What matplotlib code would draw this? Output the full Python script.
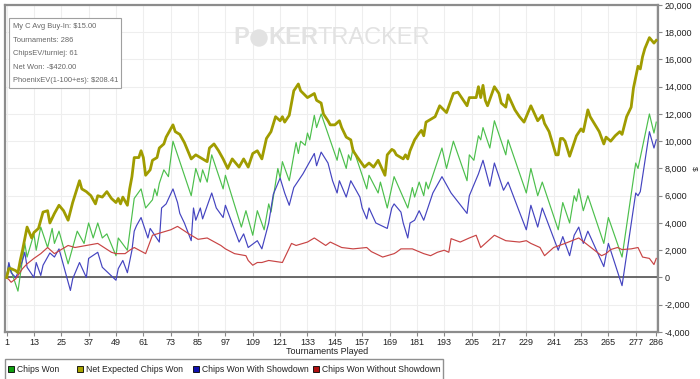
import matplotlib.pyplot as plt
from matplotlib.patches import Rectangle, Ellipse

# Chips Won (green)
won_t = [1, 2, 6, 9, 10, 13, 14, 16, 19, 21, 22, 24, 28, 32, 35, 37, 39, 41, 43, 45,
         49, 50, 54, 57, 60, 62, 65, 66, 67, 68, 70, 72, 74, 82, 84, 86, 87, 89, 91, 96,
         97, 104, 106, 109, 111, 114, 116, 117, 120, 121, 122, 125, 128, 129, 130, 132,
         133, 134, 136, 137, 139, 146, 147, 150, 151, 152, 153, 159, 160, 164, 165, 168,
         171, 177, 179, 180, 182, 184, 185, 186, 188, 189, 192, 194, 197, 203, 204, 206,
         208, 209, 210, 213, 215, 220, 221, 229, 231, 234, 236, 243, 245, 248, 250, 251,
         252, 254, 256, 263, 265, 271, 277, 278, 283, 285, 286]
won = [0, 1000, -1000, 2500, 1500, 3200, 2000, 3700, 2200, 3600, 2500, 3400, 1000, 3400,
       2500, 4000, 2900, 4000, 2900, 3200, 1600, 2900, 2000, 5800, 6500, 5100, 5700, 6500,
       6000, 6900, 7900, 7400, 10000, 6000, 8000, 7000, 7900, 7000, 9000, 6500, 7500, 3700,
       4900, 3100, 4900, 3500, 5400, 4800, 8000, 7300, 8500, 7100, 9900, 9100, 10000, 9700,
       10600, 10100, 11900, 11000, 12000, 8600, 9500, 8000, 9000, 8600, 9500, 6500, 7500,
       6200, 7000, 5100, 7400, 5100, 6600, 5900, 7000, 6000, 7000, 6500, 7500, 8000, 9500,
       8000, 10000, 7100, 9000, 8600, 10400, 10100, 11000, 9500, 11500, 9000, 10100, 6200,
       8000, 6000, 7000, 3500, 5500, 4000, 6000, 5600, 6500, 4900, 6000, 2500, 4400, 1500,
       8400, 8000, 12000, 10600, 11400]

# Net Expected Chips Won (olive)
ev_t = [1, 2, 3, 5, 6, 7, 8, 10, 12, 13, 15, 17, 19, 20, 22, 24, 26, 28, 30, 33, 34, 36,
        38, 40, 41, 43, 45, 47, 49, 50, 51, 52, 54, 55, 56, 57, 59, 60, 61, 62, 64, 65,
        67, 68, 70, 71, 72, 74, 75, 77, 79, 82, 84, 87, 89, 90, 92, 94, 96, 98, 100, 103,
        105, 107, 109, 111, 113, 115, 117, 119, 121, 122, 123, 125, 127, 129, 130, 133,
        136, 137, 139, 140, 142, 143, 145, 147, 148, 150, 152, 153, 155, 158, 160, 162,
        164, 167, 168, 170, 171, 172, 175, 176, 177, 178, 180, 182, 183, 184, 185, 189,
        191, 194, 197, 199, 203, 204, 207, 208, 209, 210, 211, 212, 215, 217, 218, 220,
        221, 224, 226, 228, 231, 234, 236, 237, 239, 242, 243, 244, 245, 246, 248, 251,
        253, 254, 256, 257, 261, 263, 264, 266, 268, 270, 271, 273, 275, 276, 278, 279,
        280, 281, 283, 285, 286]
ev = [0, 650, 650, 500, 350, 1250, 2000, 3700, 2900, 3300, 3600, 4800, 4900, 4000, 4700,
      5300, 4900, 4200, 5500, 7100, 6500, 6300, 6000, 5400, 6000, 5900, 6300, 5800, 5500,
      5800, 5400, 5900, 5300, 6500, 7400, 8800, 8800, 9300, 8800, 7500, 7900, 8600, 8800,
      9500, 9800, 10300, 10600, 11200, 10700, 10500, 9900, 8700, 9000, 8700, 8500, 9500,
      9800, 9300, 8700, 8000, 8700, 8100, 8700, 8100, 9100, 9300, 8700, 10200, 10700,
      11800, 11500, 11800, 11400, 11900, 13700, 14200, 13700, 13200, 13500, 13000, 12800,
      12000, 11500, 11200, 11200, 11500, 11000, 10300, 10100, 9300, 8800, 8100, 8400, 8100,
      8600, 7500, 9000, 9400, 9300, 9000, 8700, 9000, 8700, 9300, 10100, 10600, 10800,
      10400, 11400, 11800, 12600, 12100, 13500, 13600, 12600, 13200, 13200, 14000, 13200,
      14100, 13000, 12600, 14000, 13500, 12800, 12500, 13400, 12300, 11800, 11400, 12600,
      11500, 11900, 11300, 10700, 9000, 9000, 10200, 10200, 10000, 8900, 10400, 10900,
      10700, 12300, 11800, 10700, 9800, 10300, 10000, 10400, 10700, 10500, 11800, 12500,
      13900, 15500, 15300, 16200, 16800, 17600, 17200, 17400]

# Chips Won With Showdown (blue)
sd_t = [1, 2, 3, 5, 6, 8, 9, 10, 13, 14, 16, 17, 20, 22, 24, 29, 30, 33, 36, 37, 41, 43,
        49, 50, 52, 54, 56, 57, 58, 60, 63, 64, 68, 69, 71, 74, 76, 77, 79, 82, 83, 84,
        86, 87, 91, 93, 96, 97, 103, 105, 107, 111, 113, 116, 118, 121, 123, 125, 127,
        131, 136, 137, 139, 142, 144, 146, 147, 150, 152, 156, 157, 159, 160, 163, 168,
        170, 171, 174, 175, 177, 178, 180, 182, 184, 188, 192, 196, 203, 204, 208, 210,
        213, 215, 219, 221, 226, 229, 231, 234, 236, 243, 245, 248, 250, 252, 254, 256,
        263, 265, 271, 277, 278, 279, 283, 285, 286]
sd = [0, 1100, 350, 0, 350, 1250, 1850, 750, 0, 1100, 150, 900, 1800, 1500, 2100, -950,
      -100, 1100, 0, 1400, 1850, 750, -200, 650, 1250, 350, 2000, 3400, 3800, 4400, 2900,
      3600, 2600, 5100, 5400, 6500, 5500, 4700, 4000, 2700, 5100, 4200, 5100, 4300, 6200,
      5100, 4400, 5300, 2600, 3200, 2200, 2700, 2100, 4000, 6100, 7300, 6200, 5300, 6600,
      7600, 9100, 8200, 9200, 8400, 7100, 6200, 7100, 5900, 7100, 5900, 5100, 4300, 5100,
      4000, 3600, 5100, 5400, 4800, 4000, 2900, 4000, 4200, 4900, 4200, 6200, 7400, 6200,
      4700, 6000, 7600, 8600, 6700, 8400, 6400, 7000, 4800, 3500, 5300, 3700, 5100, 2000,
      3000, 1600, 3100, 3700, 2500, 3400, 800, 2500, -600, 6200, 6000, 6300, 10700, 9500,
      10100]

# Chips Won Without Showdown (red)
nsd_t = [1, 2, 3, 5, 8, 10, 13, 16, 19, 22, 28, 31, 41, 47, 49, 53, 55, 57, 62, 65, 73,
         76, 81, 85, 89, 95, 97, 101, 106, 107, 109, 111, 113, 116, 122, 126, 128, 133,
         136, 141, 143, 148, 153, 159, 161, 166, 171, 172, 174, 179, 184, 187, 190, 193,
         195, 196, 200, 204, 207, 209, 211, 215, 220, 226, 229, 231, 235, 237, 241, 246,
         252, 262, 264, 266, 269, 271, 275, 278, 280, 283, 285, 286]
nsd = [0, -150, -350, -100, 650, 1000, 1400, 1750, 2200, 1750, 2350, 2200, 2500, 1850,
       1750, 1750, 2000, 2200, 1750, 3100, 3500, 3750, 3200, 2800, 2900, 2350, 2100, 1750,
       1600, 1250, 900, 1100, 1100, 1250, 1100, 2500, 2350, 2600, 2900, 2350, 2600, 2200,
       2100, 2200, 1900, 1500, 1750, 1850, 2100, 2100, 1750, 1600, 1850, 2000, 1850, 2850,
       2600, 2900, 3100, 2200, 2500, 3100, 2700, 2600, 2700, 2500, 2200, 1600, 2200, 2500,
       2900, 1600, 1750, 2050, 2200, 2050, 2100, 2200, 1500, 1400, 950, 1400]

x_ticks = [1, 13, 25, 37, 49, 61, 73, 85, 97, 109, 121, 133, 145, 157, 169, 181, 193,
           205, 217, 229, 241, 253, 265, 277, 286]
y_ticks = list(range(-4000, 20001, 2000))

info_lines = ["My C Avg Buy-In: $15.00", "Tournaments: 286", "ChipsEV/turniej: 61",
              "Net Won: -$420.00", "PhoenixEV(1-100+es): $208.41"]
legend_names = ["Chips Won", "Net Expected Chips Won", "Chips Won With Showdown",
                "Chips Won Without Showdown"]
legend_colors = ["#10a010", "#a8a400", "#1010b0", "#b01010"]

plt.rcParams['font.family'] = ['Liberation Sans', 'DejaVu Sans']

fig = plt.figure(figsize=(7, 3.79), dpi=100)
ax = fig.add_axes([0.0071, 0.124, 0.933, 0.863])

ax.plot(won_t, won, color="#4cbf4c", lw=0.85, zorder=3)
ax.plot(sd_t, sd, color="#4444c0", lw=0.85, zorder=3)
ax.plot(nsd_t, nsd, color="#c84444", lw=0.85, zorder=3)
ax.plot(ev_t, ev, color="#a09c00", lw=2.0, zorder=4)
ax.axhline(0, color="#505050", lw=1.2, zorder=2)

ax.set_xlim(0.3, 286.8)
ax.set_ylim(-4000, 20000)
ax.set_xticks(x_ticks)
ax.set_yticks(y_ticks)
ax.set_yticklabels(["{:,}".format(v) for v in y_ticks])
ax.yaxis.tick_right()
ax.grid(True, color="#eeeeee", lw=0.8, zorder=0)
ax.tick_params(labelsize=6.5, length=3, color="#888888", labelcolor="#222222", pad=1.5)
for s in ax.spines.values():
    s.set_color("#8c8c8c")
    s.set_linewidth(1.6)

fig.text(327 / 700, 1 - 352 / 379, "Tournaments Played", ha="center", va="center",
         fontsize=6.5, color="#222222")
fig.text(694 / 700, 1 - 168 / 379, "$", ha="center", va="center", rotation=-90,
         fontsize=6, color="#222222")

# watermark
wm = "#e2e2e2"
fig.text(233 / 700, 1 - 38 / 379, "P", fontsize=17, fontweight="bold", color=wm,
         va="center", zorder=1)
fig.patches.append(Ellipse((259 / 700, 1 - 38 / 379), 16 / 700, 16 / 379,
                           transform=fig.transFigure, color=wm, zorder=1))
fig.text(268 / 700, 1 - 38 / 379, "KER", fontsize=17, fontweight="bold", color=wm,
         va="center", zorder=1)
fig.text(318 / 700, 1 - 38 / 379, "TRACKER", fontsize=17, color=wm,
         va="center", zorder=1)

# info box
fig.patches.append(Rectangle((9 / 700, 1 - 88 / 379), 112 / 700, 70 / 379,
                             transform=fig.transFigure, facecolor="white",
                             edgecolor="#a0a0a0", lw=0.8, zorder=5))
for i, line in enumerate(info_lines):
    fig.text(13 / 700, 1 - (27 + i * 13.3) / 379, line, fontsize=5.4, color="#666666",
             va="center", zorder=6)

# legend
fig.patches.append(Rectangle((5 / 700, -0.01), 438 / 700, 1 - 359 / 379 + 0.01,
                             transform=fig.transFigure, facecolor="white",
                             edgecolor="#909090", lw=1.0))
leg_x = [8, 77, 193, 313]
for lx, name, c in zip(leg_x, legend_names, legend_colors):
    fig.patches.append(Rectangle((lx / 700, 1 - 372 / 379), 6 / 700, 6 / 379,
                                 transform=fig.transFigure, facecolor=c,
                                 edgecolor="black", lw=0.6))
    fig.text((lx + 9) / 700, 1 - 369 / 379, name, fontsize=6.2, color="#222222",
             va="center")

fig.savefig("out.png", dpi=100)
